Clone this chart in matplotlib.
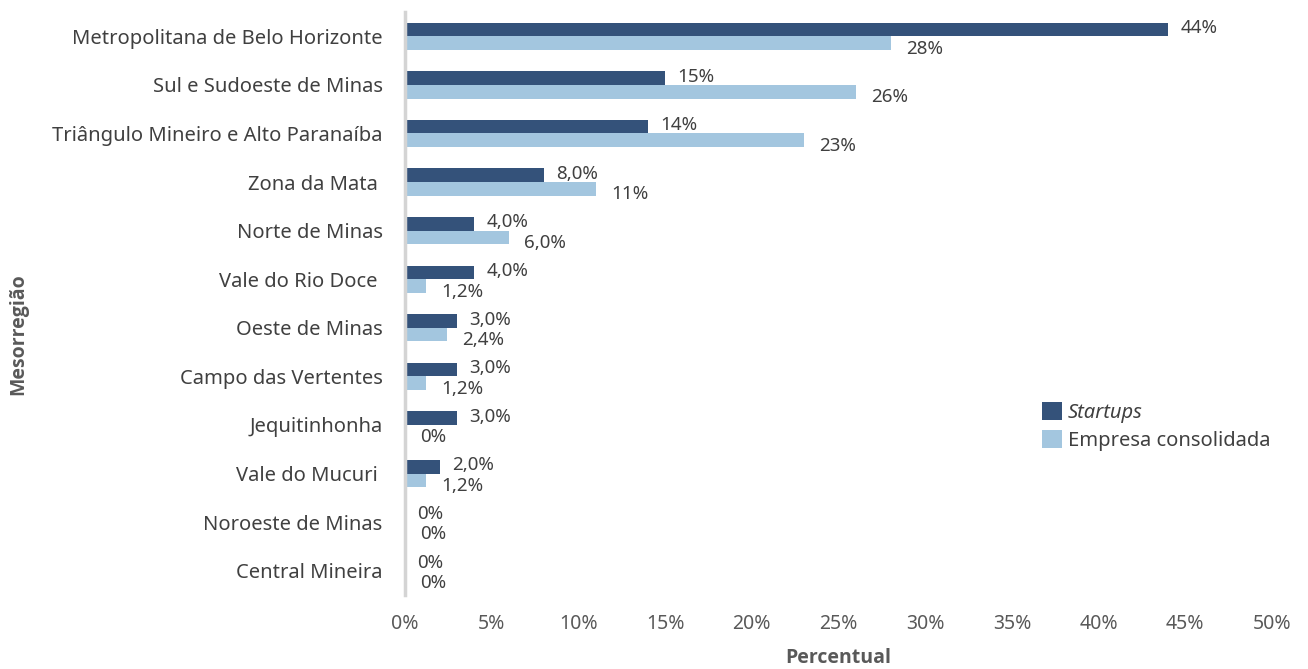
import numpy as np
import matplotlib.pyplot as plt

regioes = ['Metropolitana de Belo Horizonte', 'Sul e Sudoeste de Minas',
           'Triângulo Mineiro e Alto Paranaíba', 'Zona da Mata ', 'Norte de Minas',
           'Vale do Rio Doce ', 'Oeste de Minas', 'Campo das Vertentes',
           'Jequitinhonha', 'Vale do Mucuri ', 'Noroeste de Minas', 'Central Mineira']
startups = [44, 15, 14, 8.0, 4.0, 4.0, 3.0, 3.0, 3.0, 2.0, 0, 0]  # [%]
consolidadas = [28, 26, 23, 11, 6.0, 1.2, 2.4, 1.2, 0, 1.2, 0, 0]  # [%]
xticks = [0, 5, 10, 15, 20, 25, 30, 35, 40, 45, 50]

cor_start = '#34527a'
cor_cons = '#a3c6df'
cinza = '#595959'

def rotulo(v):
    # 44% / 8,0% / 0%
    if v == 0:
        return '0%'
    if v >= 10:
        return '%d%%' % round(v)
    return ('%.1f%%' % v).replace('.', ',')

plt.rcParams['font.family'] = ['Noto Sans', 'DejaVu Sans']

fig = plt.figure(figsize=(13.08, 6.69), dpi=100)
ax = fig.add_axes([0.3096, 0.1106, 0.6629, 0.8714])

y = np.arange(len(regioes))
h = 0.28
ax.barh(y - h / 2, startups, height=h, color=cor_start, label='Startups')
ax.barh(y + h / 2, consolidadas, height=h, color=cor_cons, label='Empresa consolidada')

for yi, v in zip(y, startups):
    ax.annotate(rotulo(v), (v, yi - h / 2), xytext=(9, 1), textcoords='offset points',
                ha='left', va='center', fontsize=13.5, color='#404040')
for yi, v in zip(y, consolidadas):
    ax.annotate(rotulo(v), (v, yi + h / 2), xytext=(11, -4), textcoords='offset points',
                ha='left', va='center', fontsize=13.5, color='#404040')

ax.set_xlim(0, 50)
ax.set_ylim(11.5, -0.5)
ax.set_xticks(xticks)
ax.set_xticklabels(['%d%%' % t for t in xticks], fontsize=14, color=cinza)
ax.set_yticks(y)
ax.set_yticklabels(regioes, fontsize=14.5, color='#404040')
ax.tick_params(length=0)
ax.tick_params(axis='x', pad=14)
ax.tick_params(axis='y', pad=16)

for s in ['top', 'right', 'bottom']:
    ax.spines[s].set_visible(False)
ax.spines['left'].set_color('#d4d4d4')
ax.spines['left'].set_linewidth(2.5)

ax.set_xlabel('Percentual', fontsize=14, fontweight='bold', color=cinza, labelpad=10,
              family='Open Sans')
fig.text(0.014, 0.5, 'Mesorregião', rotation=90, fontsize=14, fontweight='bold',
         color=cinza, ha='center', va='center', family='Open Sans')

leg = ax.legend(loc='upper left', bbox_to_anchor=(0.725, 0.345), frameon=False,
                fontsize=14.5, handlelength=1.0, handleheight=1.0,
                handletextpad=0.3, labelspacing=0.35, borderaxespad=0)
for t in leg.get_texts():
    t.set_color('#404040')
leg.get_texts()[0].set_fontstyle('italic')

fig.savefig('out.png', dpi=100)
